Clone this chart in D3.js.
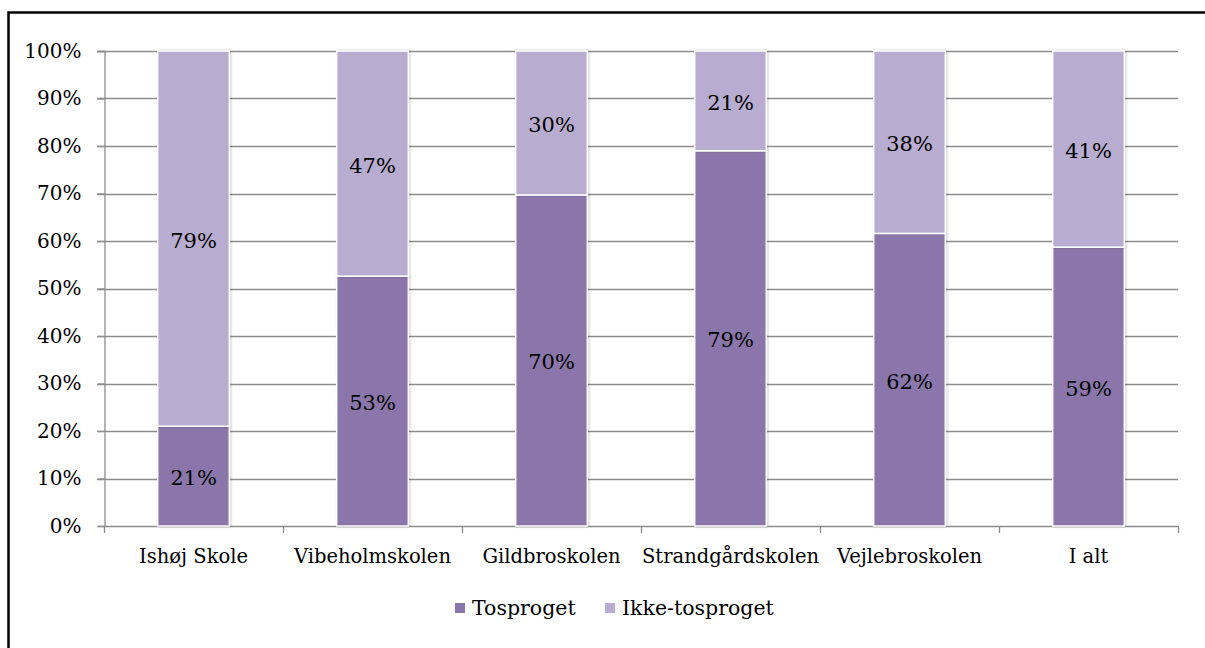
<!DOCTYPE html>
<html><head><meta charset="utf-8">
<script src="https://cdn.jsdelivr.net/npm/d3@7"></script>
<style>body{margin:0;background:#fff}svg{display:block}text{font-family:"DejaVu Serif",serif;fill:#000}</style>
</head><body>
<svg id="c" width="1205" height="648"></svg>
<script>
const categories = ["Ishøj Skole","Vibeholmskolen","Gildbroskolen","Strandgårdskolen","Vejlebroskolen","I alt"];
const tosproget = [0.21, 0.526, 0.697, 0.79, 0.616, 0.587];
const ikkeTosproget = [0.79, 0.474, 0.303, 0.21, 0.384, 0.413];
const seriesNames = ["Tosproget","Ikke-tosproget"];
const colors = ["#8a76aa","#b8acd0"];
const yTicks = [0,0.1,0.2,0.3,0.4,0.5,0.6,0.7,0.8,0.9,1];

(function(){
const svg = d3.select("#c");
const defs = svg.append("defs");
const f = defs.append("filter").attr("id","sh").attr("x","-10%").attr("y","-10%").attr("width","130%").attr("height","130%");
f.append("feDropShadow").attr("dx",1).attr("dy",0).attr("stdDeviation",1.2).attr("flood-color","#000").attr("flood-opacity",0.25);

svg.append("rect").attr("x",8.5).attr("y",12.5).attr("width",1205).attr("height",648).attr("fill","none").attr("stroke","#000").attr("stroke-width",2.5);

const pL=104, pR=1178, pT=51, pB=526;
const x = d3.scaleBand().domain(categories).range([pL,pR]).paddingInner(0.6).paddingOuter(0.3);
const xc = d3.scaleBand().domain(categories).range([pL,pR]);
const y = d3.scaleLinear().domain([0,1]).range([pB,pT]);

svg.append("g").selectAll("line").data(yTicks.slice(1)).join("line")
  .attr("x1",pL-7).attr("x2",pR).attr("y1",d=>Math.round(y(d))+0.5).attr("y2",d=>Math.round(y(d))+0.5)
  .attr("stroke","#8c8c8c").attr("stroke-width",1.3);

const ya = svg.append("g").attr("transform",`translate(${pL+0.5},0)`)
  .call(d3.axisLeft(y).tickValues(yTicks).tickFormat(d3.format(".0%")).tickSize(7).tickPadding(16));
ya.select(".domain").attr("stroke","#8c8c8c").attr("stroke-width",1.3);
ya.selectAll(".tick line").attr("stroke","#8c8c8c").attr("stroke-width",1.3);
ya.selectAll("text").style("font-size","20px").style("font-family","DejaVu Serif");

const xa = svg.append("g").attr("transform",`translate(0,${pB+0.5})`)
  .call(d3.axisBottom(xc).tickSize(0).tickPadding(23));
xa.select(".domain").remove();
xa.selectAll("text").style("font-size","19.5px").style("font-family","DejaVu Serif");
const xt = categories.map((c,i)=>pL + i*xc.step()).concat([pR]);
svg.append("g").selectAll("line").data(xt).join("line")
  .attr("x1",d=>Math.round(d)+0.5).attr("x2",d=>Math.round(d)+0.5).attr("y1",pB).attr("y2",pB+7)
  .attr("stroke","#8c8c8c").attr("stroke-width",1.3);
svg.append("line").attr("x1",pL).attr("x2",pR+1).attr("y1",pB+0.5).attr("y2",pB+0.5).attr("stroke","#8c8c8c").attr("stroke-width",1.3);

const rows = categories.map((c,i)=>({cat:c, Tosproget:tosproget[i], "Ikke-tosproget":ikkeTosproget[i]}));
const stack = d3.stack().keys(seriesNames)(rows);
const fmt = d3.format(".0%");
stack.forEach((s,si)=>{
  svg.append("g").selectAll("rect").data(s).join("rect")
    .attr("x",d=>x(d.data.cat)).attr("width",x.bandwidth())
    .attr("y",d=>y(d[1])).attr("height",d=>y(d[0])-y(d[1]))
    .attr("fill",colors[si]).attr("stroke","#fff").attr("stroke-width",1.5).attr("filter","url(#sh)");
});
stack.forEach((s,si)=>{
  svg.append("g").selectAll("text").data(s).join("text")
    .attr("x",d=>x(d.data.cat)+x.bandwidth()/2).attr("y",d=>(y(d[0])+y(d[1]))/2+2)
    .attr("text-anchor","middle").attr("dominant-baseline","central")
    .style("font-size","21px").text(d=>fmt(d[1]-d[0]));
});

const lg = svg.append("g");
const lx = [455,605];
seriesNames.forEach((n,i)=>{
  lg.append("rect").attr("x",lx[i]).attr("y",603).attr("width",10).attr("height",10).attr("fill",colors[i]);
  lg.append("text").attr("x",lx[i]+17).attr("y",608).attr("dominant-baseline","central").style("font-size","20.5px").text(n);
});
})();
</script>
</body></html>
